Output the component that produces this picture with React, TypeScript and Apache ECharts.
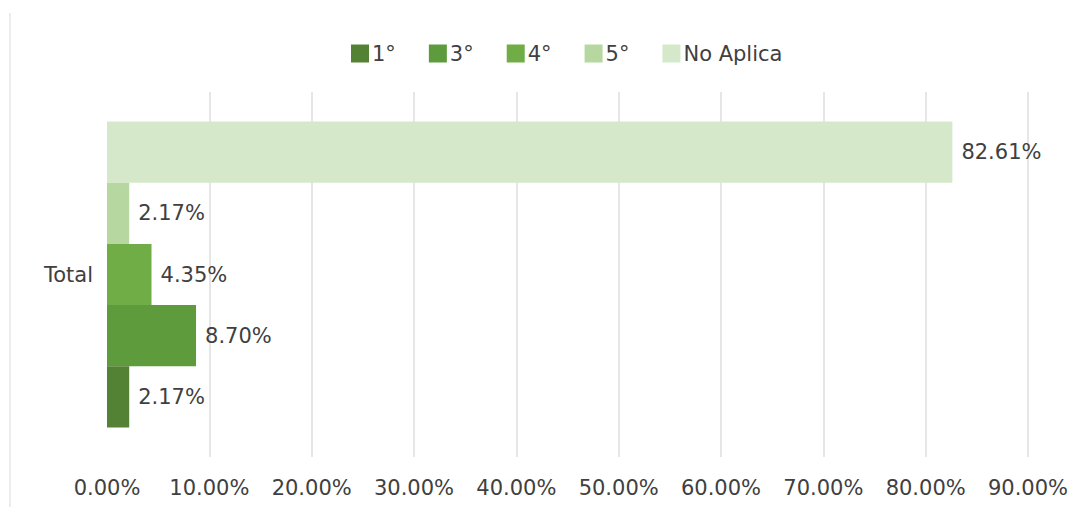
import React, { useEffect, useRef } from "react";
import * as echarts from "echarts";

const categories = ["Total"];
const seriesNames = ["1°", "3°", "4°", "5°", "No Aplica"];
const seriesValues = [[2.17], [8.7], [4.35], [2.17], [82.61]];
const seriesColors = ["#548235", "#5E9B3D", "#70AD47", "#B7D7A1", "#D5E8CA"];
const xTicks = { min: 0, max: 90, interval: 10 };

export default function App() {
  const ref = useRef<HTMLDivElement>(null);
  useEffect(() => {
    if (!ref.current) return;
    const chart = echarts.init(ref.current, undefined, { renderer: "svg" });
    const font = "DejaVu Sans";
    const fs = 21;
    // ECharts stacks horizontal bars top-down in series order; reverse so 1° is at the bottom
    const order = seriesNames.map((_, i) => i).reverse();
    chart.setOption({
      animation: false,
      backgroundColor: "#ffffff",
      textStyle: { fontFamily: font },
      graphic: [
        {
          type: "line",
          shape: { x1: 10, y1: 13, x2: 10, y2: 507 },
          style: { stroke: "#e6e6e6", lineWidth: 1.5 },
        },
      ],
      legend: {
        top: 38,
        left: 346,
        itemWidth: 18,
        itemHeight: 18,
        itemGap: 33,
        icon: "rect",
        textStyle: { fontFamily: font, fontSize: fs, color: "#404040", padding: [0, 0, 0, -2] },
        data: seriesNames,
      },
      grid: { left: 107, right: 55, top: 92, bottom: 60, containLabel: false },
      xAxis: {
        type: "value",
        min: xTicks.min,
        max: xTicks.max,
        interval: xTicks.interval,
        axisLine: { show: false },
        axisTick: { show: false },
        splitLine: { show: true, showMinLine: false, lineStyle: { color: "#dedede", width: 1.5 } },
        axisLabel: {
          margin: 20,
          fontFamily: font,
          fontSize: fs,
          color: "#404040",
          formatter: (v: number) => v.toFixed(2) + "%",
        },
      },
      yAxis: {
        type: "category",
        data: categories,
        axisLine: { show: false },
        axisTick: { show: false },
        axisLabel: { margin: 14, fontFamily: font, fontSize: fs, color: "#404040" },
      },
      series: order.map((i) => ({
        name: seriesNames[i],
        type: "bar",
        data: seriesValues[i],
        barGap: "0%",
        barCategoryGap: "16.2%",
        itemStyle: { color: seriesColors[i] },
        label: {
          show: true,
          position: "right",
          distance: 9,
          fontFamily: font,
          fontSize: fs,
          color: "#404040",
          formatter: (p: any) => Number(p.value).toFixed(2) + "%",
        },
      })),
    });
    return () => chart.dispose();
  }, []);
  return <div ref={ref} style={{ width: 1083, height: 517, position: "absolute", left: 0, top: 0 }} />;
}
